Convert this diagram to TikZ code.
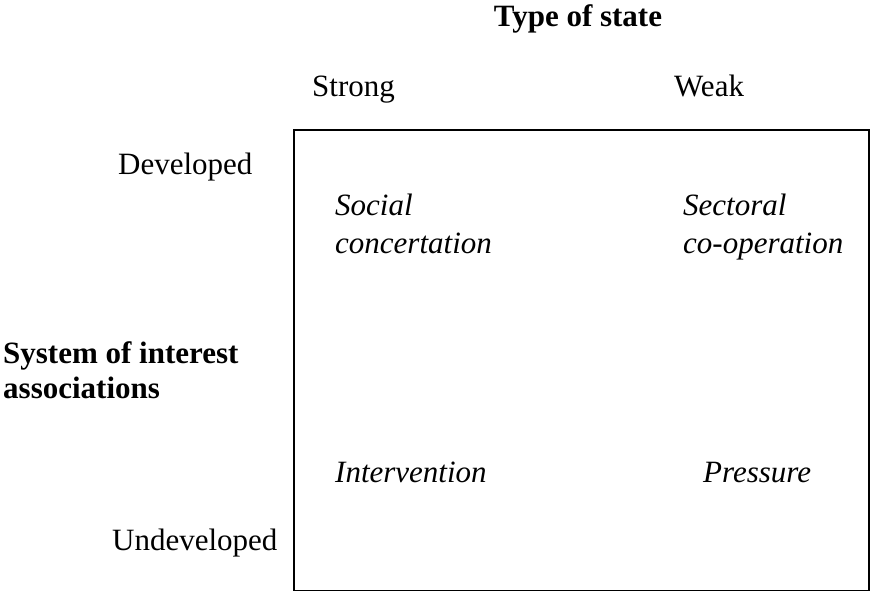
\documentclass[tikz,border=0pt]{standalone}
\usepackage{fontspec}
\setmainfont{Liberation Serif}
\newcommand\gridsize{\fontsize{31}{38}\selectfont}
\tikzset{
  heading/.style={font=\gridsize\bfseries, inner sep=0pt, anchor=base},
  level/.style={font=\gridsize, inner sep=0pt, anchor=base west},
  cell/.style={font=\gridsize\itshape, inner sep=0pt, anchor=base west, align=left}
}
\begin{document}
\begin{tikzpicture}[x=1pt,y=1pt]
\useasboundingbox (0,0) rectangle (871,590);
\coordinate (SW) at (294,-1.2);
\coordinate (NE) at (869,460);

% The box
\draw[line width=2.2pt] (SW) rectangle (NE);

% Column heading and levels
\node[heading] (typeofstate) at (578,563) {Type of state};
\node[level] (strong) at (312,493) {Strong};
\node[level] (weak) at (674,493) {Weak};

% Row heading and levels
\node[heading, anchor=base west, align=left] (system) at (3,192) {System of interest\\[-3pt]associations};
\node[level] (developed) at (118,415) {Developed};
\node[level] (undeveloped) at (112,40) {Undeveloped};

% The cells
\node[cell] (social) at (335,336) {Social\\concertation};
\node[cell] (sectoral) at (683,336) {Sectoral\\co-operation};
\node[cell] (intervention) at (335,108) {Intervention};
\node[cell] (pressure) at (703,108) {Pressure};
\end{tikzpicture}
\end{document}
